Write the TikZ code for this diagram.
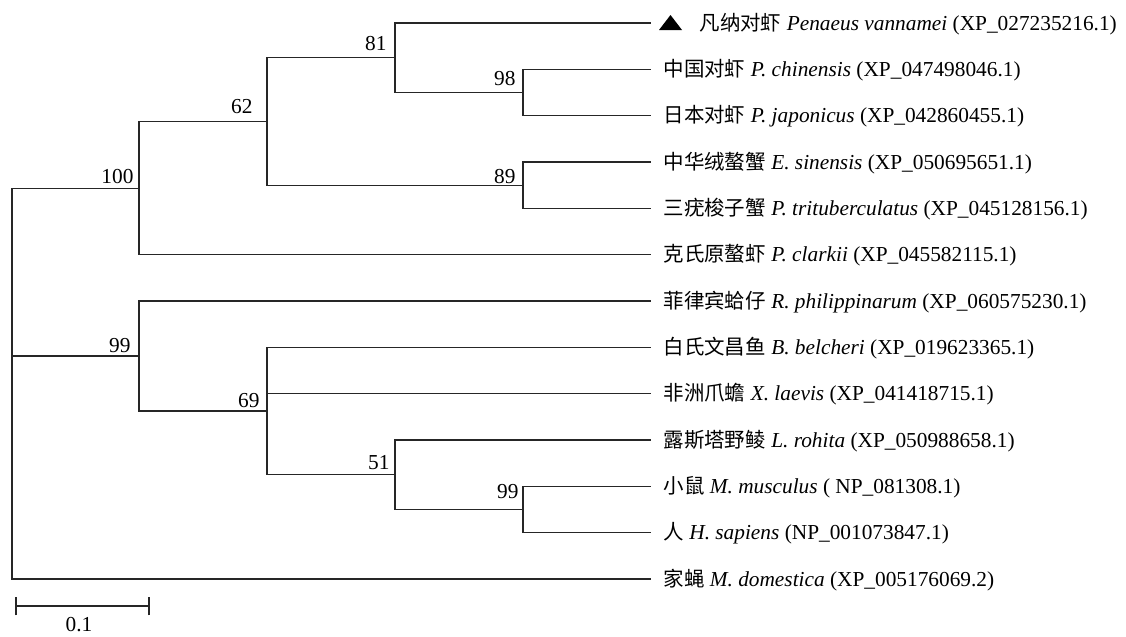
\documentclass[tikz,border=0pt]{standalone}
\usepackage{fontspec}
\setmainfont{Liberation Serif}
\newfontfamily\cjk[Scale=0.96]{Noto Sans CJK SC}

\begin{document}
\begin{tikzpicture}[x=0.75pt,y=-0.75pt,line width=0.8pt,
  branch/.style={draw=black!85},
  leaf/.style={anchor=base west,inner sep=0pt,font=\fontsize{16}{18}\selectfont},
  boot/.style={anchor=base east,inner sep=0pt,font=\fontsize{16}{18}\selectfont}]
\useasboundingbox (0,0) rectangle (1126,636);
% leaf tips
\coordinate (t1) at (651,23);
\coordinate (t2) at (651,69.3);
\coordinate (t3) at (651,115.7);
\coordinate (t4) at (651,162);
\coordinate (t5) at (651,208.3);
\coordinate (t6) at (651,254.7);
\coordinate (t7) at (651,301);
\coordinate (t8) at (651,347.3);
\coordinate (t9) at (651,393.7);
\coordinate (t10) at (651,440);
\coordinate (t11) at (651,486.3);
\coordinate (t12) at (651,532.7);
\coordinate (t13) at (651,579);
% inner nodes
\coordinate (root) at (12,383.5);
\coordinate (n100) at (139,188.1);
\coordinate (n62) at (267,121.5);
\coordinate (n81) at (395,57.75);
\coordinate (n98) at (523,92.5);
\coordinate (n89) at (523,185.2);
\coordinate (n99a) at (139,356);
\coordinate (n69) at (267,411);
\coordinate (n51) at (395,474.75);
\coordinate (n99b) at (523,509.5);
% branches
\draw [branch] (root) |- (n100);
\draw [branch] (root) |- (n99a);
\draw [branch] (root) |- (t13);
\draw [branch] (n100) |- (n62);
\draw [branch] (n100) |- (t6);
\draw [branch] (n62) |- (n81);
\draw [branch] (n62) |- (n89);
\draw [branch] (n81) |- (t1);
\draw [branch] (n81) |- (n98);
\draw [branch] (n98) |- (t2);
\draw [branch] (n98) |- (t3);
\draw [branch] (n89) |- (t4);
\draw [branch] (n89) |- (t5);
\draw [branch] (n99a) |- (t7);
\draw [branch] (n99a) |- (n69);
\draw [branch] (n69) |- (t8);
\draw [branch] (n69) |- (t9);
\draw [branch] (n69) |- (n51);
\draw [branch] (n51) |- (t10);
\draw [branch] (n51) |- (n99b);
\draw [branch] (n99b) |- (t11);
\draw [branch] (n99b) |- (t12);
% bootstrap values
\node[boot] (b100) at (134,183) {100};
\node[boot] (b62) at (253,113) {62};
\node[boot] (b81) at (387,50) {81};
\node[boot] (b98) at (516,85) {98};
\node[boot] (b89) at (516,183) {89};
\node[boot] (b99a) at (131,352) {99};
\node[boot] (b69) at (260,407) {69};
\node[boot] (b51) at (390,469) {51};
\node[boot] (b99b) at (519,498) {99};
% species
\fill (659,30) -- (682,30) -- (670.5,15) -- cycle;
\node[leaf] (s1) at (699,30) {{\cjk 凡纳对虾} \textit{Penaeus vannamei} (XP\_027235216.1)};
\node[leaf] (s2) at (663,76.3) {{\cjk 中国对虾} \textit{P. chinensis} (XP\_047498046.1)};
\node[leaf] (s3) at (663,122.7) {{\cjk 日本对虾} \textit{P. japonicus} (XP\_042860455.1)};
\node[leaf] (s4) at (663,169) {{\cjk 中华绒螯蟹} \textit{E. sinensis} (XP\_050695651.1)};
\node[leaf] (s5) at (663,215.3) {{\cjk 三疣梭子蟹} \textit{P. trituberculatus} (XP\_045128156.1)};
\node[leaf] (s6) at (663,261.7) {{\cjk 克氏原螯虾} \textit{P. clarkii} (XP\_045582115.1)};
\node[leaf] (s7) at (663,308) {{\cjk 菲律宾蛤仔} \textit{R. philippinarum} (XP\_060575230.1)};
\node[leaf] (s8) at (663,354.3) {{\cjk 白氏文昌鱼} \textit{B. belcheri} (XP\_019623365.1)};
\node[leaf] (s9) at (663,400.7) {{\cjk 非洲爪蟾} \textit{X. laevis} (XP\_041418715.1)};
\node[leaf] (s10) at (663,447) {{\cjk 露斯塔野鲮} \textit{L. rohita} (XP\_050988658.1)};
\node[leaf] (s11) at (663,493.3) {{\cjk 小鼠} \textit{M. musculus} ( NP\_081308.1)};
\node[leaf] (s12) at (663,539.7) {{\cjk 人} \textit{H. sapiens} (NP\_001073847.1)};
\node[leaf] (s13) at (663,586) {{\cjk 家蝇} \textit{M. domestica} (XP\_005176069.2)};
% scale bar
\coordinate (sa) at (16,606);
\coordinate (sb) at (149,606);
\draw [branch] (sa) -- (sb);
\draw [branch] ([yshift=-7]sa) -- ([yshift=7]sa);
\draw [branch] ([yshift=-7]sb) -- ([yshift=7]sb);
\node[leaf,anchor=base] (scale) at (79,631) {0.1};
\end{tikzpicture}
\end{document}
